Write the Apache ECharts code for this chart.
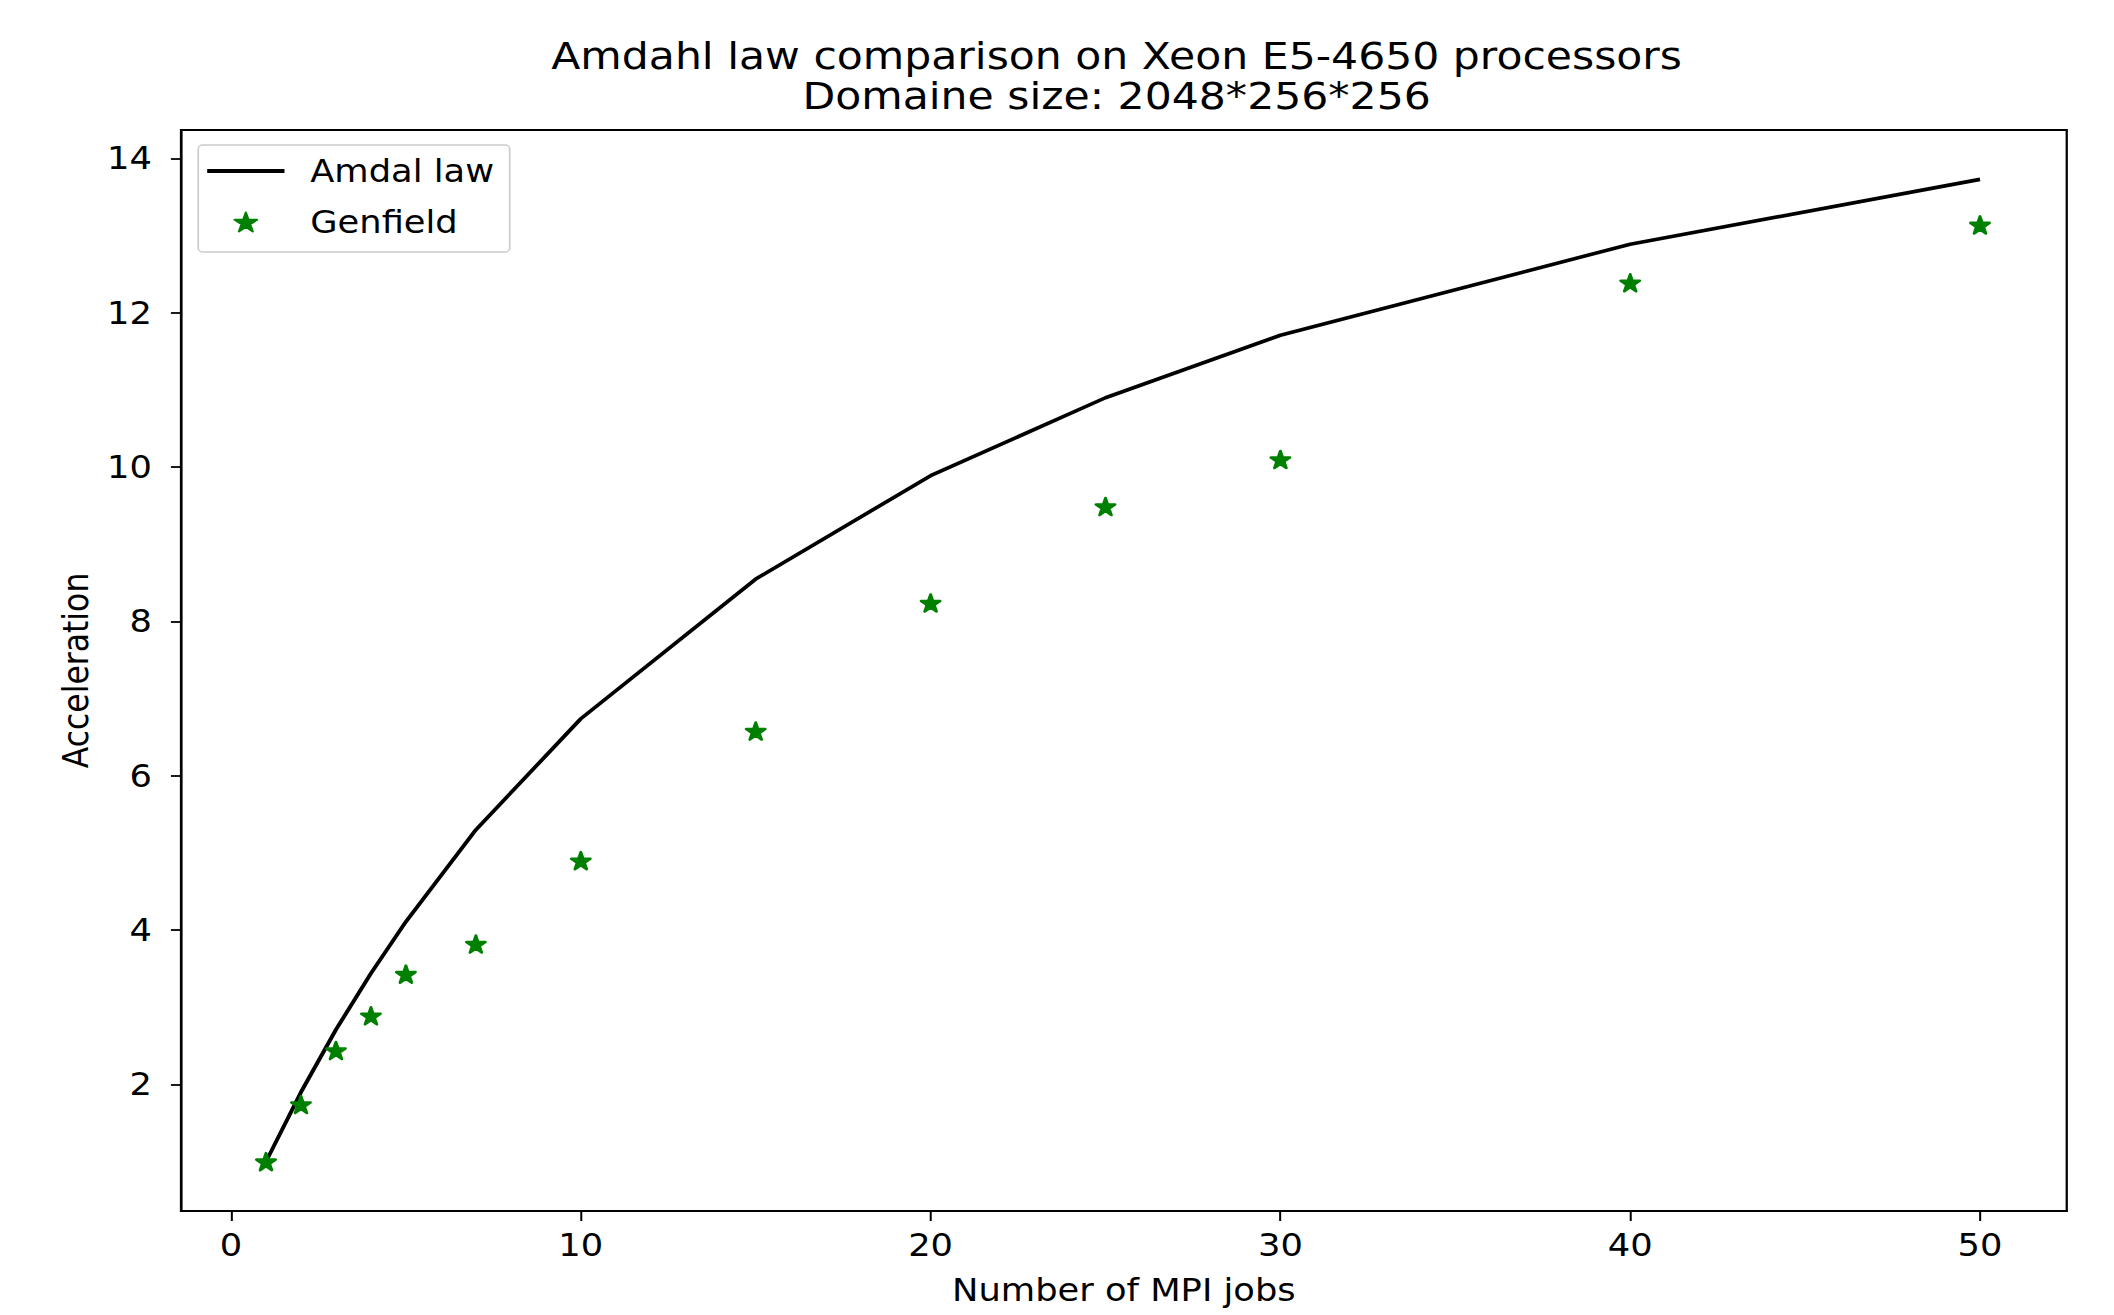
<!DOCTYPE html>
<html>
<head>
<meta charset="utf-8">
<script src="https://cdn.jsdelivr.net/npm/echarts@6/dist/echarts.min.js"></script>
<style>
  html, body { margin: 0; padding: 0; background: #fff; overflow: hidden; }
  /* the reference picture is slightly stretched horizontally */
  #chart { width: 1888px; height: 1315px; transform: scaleX(1.12); transform-origin: 0 0; }
</style>
</head>
<body>
<div id="chart"></div>
<script>
// ---- data ----
const mpiJobs = [1, 2, 3, 4, 5, 7, 10, 15, 20, 25, 30, 40, 50];
const amdahlLaw = [1.0, 1.9, 2.71, 3.44, 4.11, 5.3, 6.74, 8.55, 9.89, 10.9, 11.71, 12.89, 13.73];
const genfield = [1.0, 1.74, 2.44, 2.89, 3.43, 3.82, 4.9, 6.58, 8.24, 9.49, 10.1, 12.39, 13.14];
const xTicks = [0, 10, 20, 30, 40, 50];
const yTicks = [2, 4, 6, 8, 10, 12, 14];
const seriesNames = ['Amdal law', 'Genfield'];

const titleText = 'Amdahl law comparison on Xeon E5-4650 processors\nDomaine size: 2048*256*256';

// 5-point star symbol (matplotlib '*')
function starPath() {
  const pts = [];
  for (let i = 0; i < 10; i++) {
    const r = (i % 2 === 0) ? 1 : 0.381966;
    const a = -Math.PI / 2 + i * Math.PI / 5;
    pts.push((r * Math.cos(a)).toFixed(4) + ',' + (r * Math.sin(a)).toFixed(4));
  }
  return 'path://M' + pts.join(' L') + ' Z';
}
const STAR = starPath();
const LINE_ICON = 'path://M0,0 L69,0 L69,4 L0,4 Z';

const FONT = 'DejaVu Sans';
const chart = echarts.init(document.getElementById('chart'), null, { renderer: 'svg' });

chart.setOption({
  backgroundColor: '#ffffff',
  animation: false,
  textStyle: { fontFamily: FONT, color: '#000' },
  title: {
    text: titleText,
    left: 997,
    top: 36,
    padding: 0,
    textAlign: 'center',
    textStyle: { fontFamily: FONT, fontSize: 38, fontWeight: 'normal', color: '#000', lineHeight: 40 }
  },
  legend: {
    orient: 'vertical',
    left: 177,
    top: 145,
    padding: [10, 14, 14, 8],
    itemGap: 19,
    itemWidth: 69,
    itemHeight: 19,
    backgroundColor: 'rgba(255,255,255,0.8)',
    borderColor: '#cccccc',
    borderWidth: 1.5,
    borderRadius: 4,
    textStyle: { fontFamily: FONT, fontSize: 31.5, lineHeight: 32, color: '#000', padding: [0, 0, 0, 18] },
    data: [
      { name: seriesNames[0], icon: LINE_ICON },
      { name: seriesNames[1], icon: STAR }
    ]
  },
  grid: {
    left: 161.6, right: 42.7, top: 130, bottom: 104,
    show: true, borderColor: '#000', borderWidth: 2, backgroundColor: 'transparent'
  },
  xAxis: {
    type: 'value',
    min: -1.43, max: 52.48,
    name: 'Number of MPI jobs',
    nameLocation: 'middle',
    nameGap: 63,
    nameTextStyle: { fontFamily: FONT, fontSize: 31.5, color: '#000' },
    axisLine: { show: true, onZero: false, lineStyle: { color: '#000', width: 2 } },
    axisTick: { show: true, length: 10, lineStyle: { color: '#000', width: 1.8 }, customValues: xTicks },
    axisLabel: { fontFamily: FONT, fontSize: 31.5, color: '#000', margin: 18, customValues: xTicks },
    splitLine: { show: false }
  },
  yAxis: {
    type: 'value',
    min: 0.36, max: 14.37,
    name: 'Acceleration',
    nameLocation: 'middle',
    nameGap: 78,
    nameTextStyle: { fontFamily: FONT, fontSize: 31.5, color: '#000' },
    axisLine: { show: true, onZero: false, lineStyle: { color: '#000', width: 2 } },
    axisTick: { show: true, length: 9, lineStyle: { color: '#000', width: 1.8 }, customValues: yTicks },
    axisLabel: { fontFamily: FONT, fontSize: 31.5, color: '#000', margin: 26, customValues: yTicks },
    splitLine: { show: false }
  },
  series: [
    {
      name: seriesNames[0],
      type: 'line',
      data: mpiJobs.map((x, i) => [x, amdahlLaw[i]]),
      symbol: 'none',
      lineStyle: { color: '#000', width: 3.6 },
      itemStyle: { color: '#000' },
      z: 2
    },
    {
      name: seriesNames[1],
      type: 'scatter',
      data: mpiJobs.map((x, i) => [x, genfield[i]]),
      symbol: STAR,
      symbolSize: 17,
      itemStyle: { color: '#008000', opacity: 1, borderColor: '#008000', borderWidth: 2.6, borderJoin: 'round' },
      z: 3
    }
  ]
});
</script>
</body>
</html>
